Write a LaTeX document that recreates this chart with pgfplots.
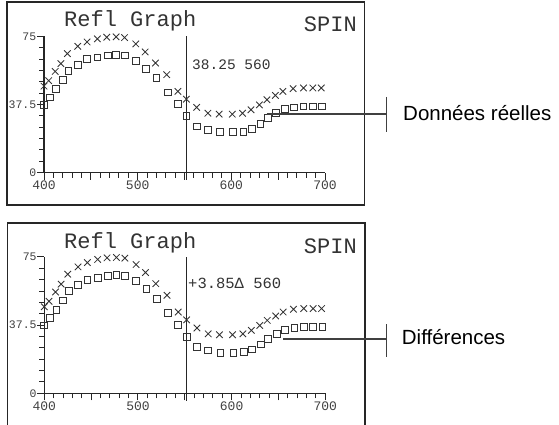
\documentclass[border=0pt]{standalone}
\usepackage{fontspec}
\setmainfont{Liberation Sans}
\newfontfamily\calc{Liberation Mono}
\usepackage{pgfplots}
\pgfplotsset{compat=1.18}
\usepackage{pgfplotstable}

\pgfplotstableread{
x y
400 47.6
405 50.6
412 55.7
418 60.0
425 65.5
436 69.5
446 71.9
457 73.6
467 74.5
477 74.7
486 74.3
498 70.8
508 66.4
519 60.3
531 53.9
543 44.7
552 40.4
563 35.9
575 32.7
587 32.2
601 32.2
612 32.7
621 34.6
630 37.3
638 40.1
647 42.5
655 44.7
666 46.2
677 46.6
687 46.6
696 46.6
}\crosses

\pgfplotstableread{
x y
400 37.3
406 41.4
413 46.0
420 51.1
426 56.1
436 59.4
446 62.5
457 63.4
468 64.5
477 64.9
486 64.5
498 61.6
509 57.2
520 52.1
532 44.1
543 37.7
552 31.1
563 25.4
575 23.6
588 22.3
602 22.3
613 22.6
622 24.1
631 26.9
639 30.0
648 32.8
657 35.0
667 35.9
677 36.4
687 36.4
697 36.4
}\squares

\pgfplotsset{calcaxis/.style={
  scale only axis, width=281pt, height=136.4pt, anchor=south west,
  xmin=400, xmax=700, ymin=0, ymax=75,
  axis lines=left, axis line style={-, line width=1.5pt, black!85},
  clip=false,
  xtick={400,450,...,700}, xticklabels={400,,500,,600,,700},
  minor x tick num=4,
  ytick={0,37.5,75}, yticklabels={0,37.5,75},
  minor y tick num=5,
  tick align=outside,
  major tick length=7pt, minor tick length=5pt,
  tick style={line width=1pt, black!85},
  tick label style={text=black!75},
  xticklabel style={inner sep=1pt, font=\calc\fontsize{13}{13}\selectfont},
  yticklabel style={inner sep=0.5pt, font=\calc\fontsize{11.5}{11.5}\selectfont},
  /pgf/number format/assume math mode=true,
}}

\begin{document}
\begin{tikzpicture}[x=1pt,y=1pt]
\useasboundingbox (0,0) rectangle (559,425);

% top panel
\begin{axis}[calcaxis, at={(44pt,252.3pt)}]
\addplot[only marks, mark=x, mark size=4.6pt, black!80, mark options={line width=0.85pt}] table {\crosses};
\addplot[only marks, mark=square, mark size=3.4pt, black!80, mark options={line width=0.9pt}] table {\squares};
\addplot[no marks, line width=1.4pt, black!85] coordinates {(552,-4) (552,75)};
\end{axis}

% bottom panel
\begin{axis}[calcaxis, at={(44.3pt,31.7pt)}]
\addplot[only marks, mark=x, mark size=4.6pt, black!80, mark options={line width=0.85pt}] table {\crosses};
\addplot[only marks, mark=square, mark size=3.4pt, black!80, mark options={line width=0.9pt}] table {\squares};
\addplot[no marks, line width=1.4pt, black!85] coordinates {(552,-4) (552,75)};
\end{axis}

% frames
\draw[line width=1.6pt, black!85] (6.8,423.2) rectangle (364.3,219.8);
\draw[line width=1.6pt, black!85] (7.5,-5) -- (7.5,201.7) -- (365,201.7) -- (365,-5);

% calculator texts
\node[anchor=base west, inner sep=0, font=\calc\fontsize{22}{22}\selectfont, text=black!80] at (64,398.3) {Refl Graph};
\node[anchor=base east, inner sep=0, font=\calc\fontsize{22}{22}\selectfont, text=black!80] at (357,393.3) {SPIN};
\node[anchor=base west, inner sep=0, font=\calc\fontsize{14.5}{14.5}\selectfont, text=black!80] at (192,355) {38.25 560};

\node[anchor=base west, inner sep=0, font=\calc\fontsize{22}{22}\selectfont, text=black!80] at (64,176.7) {Refl Graph};
\node[anchor=base east, inner sep=0, font=\calc\fontsize{22}{22}\selectfont, text=black!80] at (357,171.7) {SPIN};
\node[anchor=base west, inner sep=0, font=\calc\fontsize{15.5}{15.5}\selectfont, text=black!80] at (188,136) {+3.85Δ 560};

% annotations
\draw[line width=1.5pt, black!75] (266.7,311) -- (386.7,311);
\draw[line width=1.5pt, black!75] (386.7,328) -- (386.7,293);
\node[anchor=base west, inner sep=0, font=\fontsize{20.5}{20.5}\selectfont] at (403,304.3) {Données réelles};

\draw[line width=1.5pt, black!75] (283.3,86) -- (386.7,86);
\draw[line width=1.5pt, black!75] (386.7,100.7) -- (386.7,68.3);
\node[anchor=base west, inner sep=0, font=\fontsize{20.5}{20.5}\selectfont] at (401.7,80) {Différences};
\end{tikzpicture}
\end{document}
